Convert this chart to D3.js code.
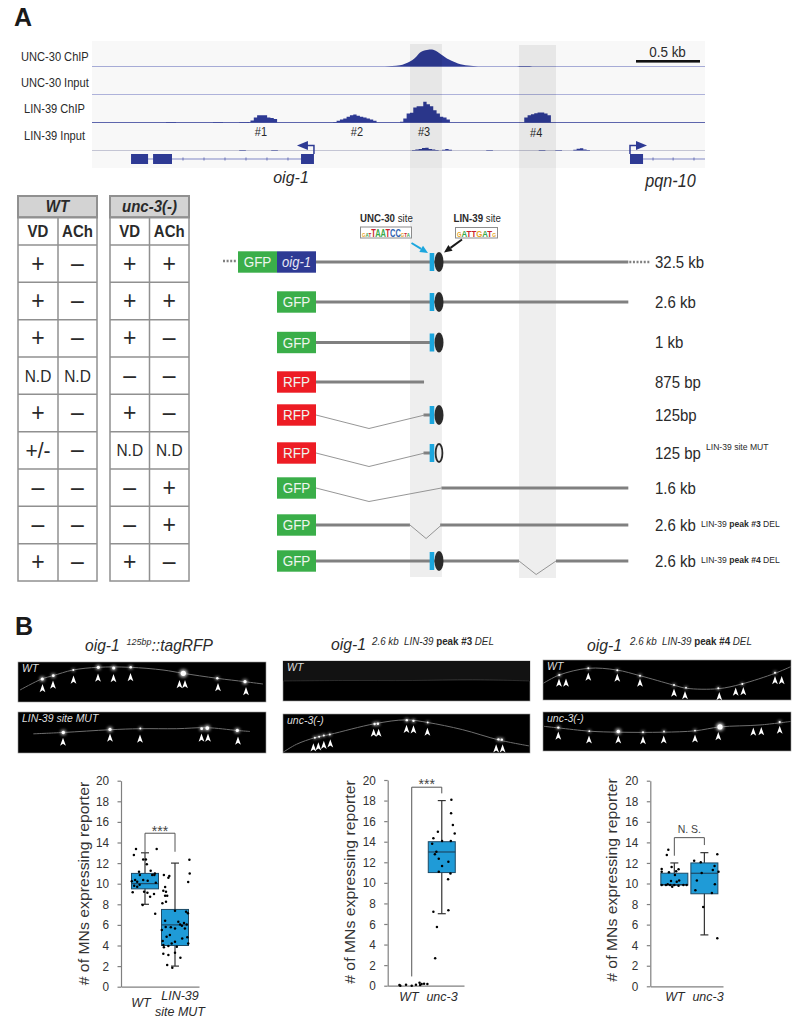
<!DOCTYPE html>
<html>
<head>
<meta charset="utf-8">
<script src="https://cdnjs.cloudflare.com/ajax/libs/d3/7.8.5/d3.min.js"></script>
<style>
  html, body { margin: 0; padding: 0; background: #fff; }
  svg { display: block; }
  text { font-family: "Liberation Sans", Arial, sans-serif; fill: #2a2a2a; }
</style>
</head>
<body>
<svg id="fig" width="799" height="1030"></svg>
<script>
// ---- browser tracks (kb along the locus, coverage in arbitrary units)
const trackNames = ["UNC-30 ChIP", "UNC-30 Input", "LIN-39 ChIP", "LIN-39 Input"];
const unc30Kb = [2.289, 2.344, 2.406, 2.484, 2.523, 2.563, 2.617, 2.656, 2.695, 2.734, 2.773, 2.813, 2.859, 2.898, 2.938, 3.016];
const unc30Cov = [0, 0.6, 1.3, 5, 8.5, 14, 16.5, 17, 15, 11.5, 8, 5.5, 3, 1.7, 0.9, 0];
const unc30SmallKb = [3.32, 3.34, 3.42, 3.44];
const unc30SmallCov = [0, 0.5, 0.5, 0];
const peak1 = [0.3, 2, 5, 7.3, 7.3, 7.3, 5, 4.5, 3.5, 0];
const peak2 = [0.6, 1.7, 3, 4, 5.7, 7.3, 8, 6.7, 5.7, 5, 4, 3, 1.7, 0];
const peak3 = [0.7, 4, 9, 9.7, 15, 16.3, 16.3, 20.7, 18.3, 16.3, 12.3, 9, 5.7, 5, 3, 0];
const peak4 = [5, 7.3, 8.3, 9.3, 10, 10, 9, 7.3, 0];
const peakStarts = [1.212, 1.885, 2.406, 3.377];
const smallPeakStarts = [0.578, 0.945, 1.15];
const smallPeak = [0.5, 0.5, 0.5, 0];
const inputBumps = [0.5, 1, 1.5, 2.5, 2.7, 1.5, 1, 0.4, 0, 0.8, 1.5, 0.7, 0];
const inputBumpStart = 2.5;
const inputBumps2 = [0.7, 1.7, 2.3, 1, 0.5, 0];
const inputBump2Start = 3.76;
const inputFlatStarts = [1.15, 1.4, 3.08, 3.49, 3.62];
const peakNames = ["#1", "#2", "#3", "#4"];
const peakNameKb = [1.32, 2.07, 2.594, 3.47];
const bandsKb = [[2.484, 2.734], [3.336, 3.625]];
const oigExons = [[0.305, 0.438], [0.477, 0.625], [1.633, 1.734]];
const oigIntronTicks = [0.711, 0.875, 1.039, 1.203, 1.367, 1.531];
const pqnExon = [4.203, 4.305];
const pqnIntronTicks = [4.383, 4.54, 4.703];

// ---- reporter table
const tableHeads = ["WT", "unc-3(-)"];
const colHeads = ["VD", "ACh"];
const wtVD = ["+", "+", "+", "N.D", "+", "+/-", "–", "–", "+"];
const wtACh = ["–", "–", "–", "N.D", "–", "–", "–", "–", "–"];
const uncVD = ["+", "+", "+", "–", "+", "N.D", "–", "–", "+"];
const uncACh = ["+", "+", "–", "–", "–", "N.D", "+", "+", "–"];

// ---- constructs
const constructIds = ["c32", "c26", "c1", "c875", "c125", "c125m", "c16", "cd3", "cd4"];
const constructTags = ["GFP", "GFP", "GFP", "RFP", "RFP", "RFP", "GFP", "GFP", "GFP"];
const constructSizes = ["32.5 kb", "2.6 kb", "1 kb", "875 bp", "125bp", "125 bp", "1.6 kb", "2.6 kb", "2.6 kb"];
const thickParts = [
  [[1.75, 4.19]], [[1.75, 4.19]], [[1.75, 2.656]], [[1.75, 2.594]], [[2.59, 2.656]], [[2.59, 2.656]],
  [[2.73, 4.19]], [[1.75, 2.484], [2.72, 4.19]], [[1.75, 3.336], [3.625, 4.19]]
];
const thinParts = [
  [], [], [], [], [[1.75, 0], [2.164, 1], [2.6, 0]], [[1.75, 0], [2.164, 1], [2.6, 0]],
  [[1.75, 0], [2.164, 1], [2.73, 0]], [[2.484, 0], [2.61, 1], [2.73, 0]], [[3.336, 0], [3.47, 1], [3.625, 0]]
];
const hasBar = [1, 1, 1, 0, 1, 1, 0, 0, 1];
const siteState = ["on", "on", "on", "", "on", "mut", "", "", "on"];

// ---- panel B images (position along the image, in image units 0-248 x 0-40)
const img1Trace = [[2, 28], [23.7, 17], [35, 13.7], [55, 8], [80, 5.3], [112, 5.3], [145, 8], [165, 11.3], [199, 16.3], [227, 19.7], [245, 22]];
const img1Cells = [[24.3, 17, 1.6], [35.3, 13.7, 1.4], [55.3, 8, 1], [80.3, 5.3, 1.6], [95.7, 6, 1.6], [112.7, 5.3, 1.3], [165.3, 11.3, 2.6], [199.3, 16.3, 1.2], [227, 19.7, 1.6]];
const img1Arrows = [[24.5, 22], [35, 18.5], [55.5, 13.5], [80, 11.5], [95.5, 12], [112.5, 11], [161.5, 18], [167, 18], [200, 21], [228, 25]];
const img2Trace = [[15.3, 21.3], [45, 20], [92, 17.3], [122, 16.3], [158.7, 16.3], [188.7, 15.3], [219, 18], [232, 19]];
const img2Cells = [[45.3, 20, 1.7], [92, 17, 1.6], [122.3, 16, 1], [183.7, 16.3, 1.4], [189.3, 15.7, 1.9], [219.3, 18, 1.6]];
const img2Arrows = [[45, 25], [92, 21], [122, 22], [183.5, 21], [190, 21], [220, 24]];
const img3Trace = [[0, 20], [60, 19.5], [130, 19.5], [190, 18.5], [247, 20]];
const img4Trace = [[0, 39.3], [13.7, 31], [32, 24.3], [47, 21], [92, 10], [123.7, 6], [145.3, 8.7], [180, 16], [217, 26.7], [247, 32.7]];
const img4Cells = [[32, 24.3, 1], [36.3, 23.3, 1], [41, 22, 1], [47, 21, 1], [92, 10.3, 1.2], [95.3, 10, 1.2], [124.3, 6.3, 1.2], [131, 7, 1.2], [145.3, 8.7, 0.9], [216.3, 26, 1.2], [219.7, 26.3, 1.2]];
const img4Arrows = [[30.5, 30], [35.5, 29], [41, 27.5], [47.5, 26], [91, 15], [96, 15], [124, 11], [131, 11.5], [145, 14], [214, 31], [220.5, 31]];
const img5Trace = [[0.3, 23.3], [16.3, 15], [45.3, 8.3], [73.7, 10], [97, 15.7], [130.3, 25], [143.7, 28.3], [175.3, 28.7], [198.7, 24], [232, 13.3], [247.7, 6.7]];
const img5Cells = [[16.3, 15, 1.1], [45.3, 8.3, 1], [74.3, 10.3, 1], [97, 15.7, 1], [131, 25, 1], [143, 27.7, 0.9], [175.3, 28.3, 1], [199.3, 24, 1], [232, 12.7, 1]];
const img5Arrows = [[16, 18.5], [23, 18.5], [45.3, 12.5], [74.3, 13.5], [97, 18.5], [131, 28.5], [142, 31], [176.3, 32], [192.7, 27.5], [200.3, 27], [232, 16], [238.7, 16]];
const img6Trace = [[1, 14.7], [15.3, 16.3], [47, 19.7], [75.3, 20.7], [120.3, 20.7], [152, 19.3], [177, 15.3], [217, 13.3], [247.7, 9.7]];
const img6Cells = [[15.3, 16, 1.2], [46.3, 19.7, 0.9], [75.3, 20, 1.8], [100, 20.7, 1], [121, 20, 0.9], [152, 19, 0.9], [177, 15.3, 2.6], [236.7, 10.3, 1.1]];
const img6Arrows = [[15.3, 20], [46, 24], [75.3, 24], [100, 24.7], [120.7, 24], [152, 23], [175.3, 20.5], [210.3, 16], [218.3, 15.5], [236.7, 14]];

// ---- box plots (value axis in # of MNs, x in category units: WT = 1, other = 2)
const yTicks = [0, 2, 4, 6, 8, 10, 12, 14, 16, 18, 20];
const statsA = [[8, 9.5, 10, 11, 13], [2, 4, 6, 7.5, 12]];
const statsB = [null, [7, 11, 13, 14, 18]];
const statsC = [[9.85, 9.85, 9.9, 11, 12], [5, 9, 11, 12, 13]];
const ptsAwt = [[.7, 13.37], [.63, 12.78], [1.39, 13.37], [.94, 12.36], [1.03, 12.36], [1.06, 11.9], [.8, 11.17], [1.19, 11.26], [1.33, 11], [.83, 10.84], [1.24, 10.84], [1.31, 10.84], [.56, 10.23], [.67, 10.36], [.74, 10.2], [.94, 10.36], [1.09, 10.29], [.64, 9.8], [.74, 9.7], [.59, 9.16], [.97, 9.22], [1.08, 9.13], [1.3, 9], [1.17, 8.74], [.92, 7.93], [1.34, 7.09], [.82, 9.9], [1.36, 10.1]];
const ptsAmut = [[2.48, 12.33], [2.49, 11], [2.44, 10.16], [1.63, 10.84], [1.81, 10.74], [1.78, 10.58], [1.67, 9.68], [1.61, 9.32], [1.7, 9.22], [1.67, 8.83], [1.74, 8.83], [1.7, 8.25], [1.58, 8.09], [2, 7.38], [2.37, 7.28], [2.43, 7.12], [2.11, 6.31], [1.67, 6.41], [2.3, 6.18], [2.39, 6.05], [2.17, 6.05], [1.56, 5.5], [1.69, 5.79], [1.86, 5.76], [2.23, 5.92], [2.33, 5.66], [2, 5.66], [1.83, 5.02], [1.72, 4.85], [2.24, 4.69], [2.41, 4.79], [2.44, 4.2], [1.59, 4.43], [2, 4.37], [1.61, 4.05], [1.89, 4.2], [1.78, 3.95], [2.06, 3.88], [1.63, 3.82], [2, 3.3], [1.61, 3.2], [1.78, 3.07], [2.18, 2.82], [1.74, 2.1], [1.91, 1.84]];
const ptsBwt = [[.59, .06], [.62, 0], [.81, .1], [1, 0], [1.14, .1], [1.26, .29], [1.28, .06], [1.33, .16], [1.41, .2], [1.52, .16]];
const ptsBunc = [[2.32, 18.09], [2.31, 16.76], [2.37, 15.62], [2.43, 14.81], [1.87, 14.98], [1.72, 14.33], [2.01, 14.07], [2.3, 14.07], [1.68, 13.81], [1.82, 13.03], [1.77, 12.77], [1.9, 12.35], [2.22, 12.06], [2.01, 11.64], [1.9, 11.09], [2.29, 10.92], [2.21, 10.34], [2.22, 7.33], [1.72, 7.2], [1.84, 5.7], [1.78, 2.66]];
const ptsCwt = [[.8, 13.29], [.75, 12.77], [.91, 11.6], [.58, 11.4], [.58, 11.15], [1.14, 11.38], [1.06, 11.2], [.82, 11.09], [1.02, 10.83], [.89, 10.24], [1.16, 10.28], [1.08, 10.18], [.58, 9.85], [.72, 9.85], [.86, 9.85], [.93, 9.69], [1, 9.85], [1.14, 9.79], [1.3, 9.85], [1.41, 9.85], [.78, 9.92]];
const ptsCunc = [[2.43, 12.84], [1.66, 12.22], [1.88, 12.06], [2.34, 11.7], [2.28, 11.31], [2.47, 11.15], [1.91, 11.02], [1.75, 10.28], [2.35, 9.92], [1.7, 9.34], [2.25, 9.08], [1.96, 7.71], [2.43, 4.67]];

const svg = d3.select("#fig");
const defs = svg.append("defs");
defs.append("filter").attr("id", "glow").attr("x", "-150%").attr("y", "-150%").attr("width", "400%").attr("height", "400%")
  .append("feGaussianBlur").attr("stdDeviation", 0.6);
defs.append("filter").attr("id", "halo").attr("x", "-150%").attr("y", "-150%").attr("width", "400%").attr("height", "400%")
  .append("feGaussianBlur").attr("stdDeviation", 1.8);

const BLUE = "#2e3a94";
const xKb = d3.scaleLinear().domain([0, 4.789]).range([92, 705]);

// the source figure was squeezed sideways, so all text is narrowed a little
const SQ = 0.92;

function label(x, y, str, size, opts = {}) {
  return svg.append("text").attr("transform", `translate(${x},${y}) scale(${SQ},1)`).text(str)
    .attr("font-size", size / SQ)
    .attr("text-anchor", opts.anchor || "start")
    .attr("font-weight", opts.weight || null)
    .attr("font-style", opts.style || null)
    .style("fill", opts.fill || null);
}

// mixed-style runs on one baseline: each part is [text, size, style, weight]
function rich(x, y, parts) {
  const t = svg.append("text").attr("transform", `translate(${x},${y}) scale(${SQ},1)`).attr("xml:space", "preserve");
  parts.forEach(p => {
    t.append("tspan").text(p[0]).attr("font-size", p[1] / SQ).attr("font-style", p[2] || null)
      .attr("font-weight", p[3] || null);
  });
  return t;
}

svg.append("text").attr("x", 14).attr("y", 26).attr("font-size", 25).attr("font-weight", "bold").text("A").style("fill", "#1a1a1a");
svg.append("text").attr("x", 15).attr("y", 635).attr("font-size", 25).attr("font-weight", "bold").text("B").style("fill", "#1a1a1a");

// ---------- browser panel
svg.append("rect").attr("x", xKb(0)).attr("y", 41).attr("width", xKb(4.789) - xKb(0)).attr("height", 127).attr("fill", "#f8f8f8");

const trackY = d3.scaleOrdinal(trackNames, [66.5, 94.5, 122.5, 150.5]);
const trackLabelX = d3.scaleOrdinal(trackNames, [21, 21, 24, 24]);
const trackLabelY = d3.scaleOrdinal(trackNames, [61, 87, 113, 140]);
const trackLine = d3.scaleOrdinal(trackNames, ["#a6abd6", "#aeb2da", "#5e66ad", "#c4c5d4"]);

trackNames.forEach(name => {
  label(trackLabelX(name), trackLabelY(name), name, 11.1);
  svg.append("line").attr("x1", xKb(0)).attr("x2", xKb(4.789))
    .attr("y1", trackY(name)).attr("y2", trackY(name))
    .attr("stroke", trackLine(name)).attr("stroke-width", 1);
});

const smoothArea = d3.area().x(d => xKb(d[0])).y0(d => d[2]).y1(d => d[2] - d[1]).curve(d3.curveMonotoneX);
const stepArea = d3.area().x(d => xKb(d[0])).y0(d => d[2]).y1(d => d[2] - d[1]).curve(d3.curveStepAfter);

svg.append("path").attr("fill", BLUE)
  .attr("d", smoothArea(unc30Kb.map((k, i) => [k, unc30Cov[i], trackY(trackNames[0])])));
svg.append("path").attr("fill", BLUE)
  .attr("d", smoothArea(unc30SmallKb.map((k, i) => [k, unc30SmallCov[i], trackY(trackNames[0])])));

const BIN = 0.026;
function stepPeak(vals, start, base) {
  svg.append("path").attr("fill", BLUE)
    .attr("d", stepArea(vals.map((v, i) => [start + i * BIN, v, base])));
}
[peak1, peak2, peak3, peak4].forEach((p, i) => stepPeak(p, peakStarts[i], trackY(trackNames[2])));
smallPeakStarts.forEach(s => stepPeak(smallPeak, s, trackY(trackNames[2])));
stepPeak(inputBumps, inputBumpStart, trackY(trackNames[3]));
stepPeak(inputBumps2, inputBump2Start, trackY(trackNames[3]));
inputFlatStarts.forEach(s => stepPeak([0.5, 0.5, 0], s, trackY(trackNames[3])));

const peakLabelY = d3.scaleOrdinal(peakNames, [136, 136, 136, 137]);
peakNames.forEach((n, i) => label(xKb(peakNameKb[i]), peakLabelY(n), n, 11, { anchor: "middle" }));

// grey bands run through the tracks and the construct drawing
bandsKb.forEach((b, i) => {
  svg.append("rect").attr("x", xKb(b[0])).attr("width", xKb(b[1]) - xKb(b[0]))
    .attr("y", 44 + i).attr("height", 533).attr("fill", "#000").attr("fill-opacity", 0.066);
});

// scale bar
svg.append("rect").attr("x", 636).attr("y", 60).attr("width", xKb(0.5) - xKb(0)).attr("height", 2.6).attr("fill", "#111");
label(667.5, 56.5, "0.5 kb", 13.5, { anchor: "middle" });

// gene models
const GENE_Y = 159;
svg.append("line").attr("x1", xKb(oigExons[0][0])).attr("x2", xKb(oigExons[2][0])).attr("y1", GENE_Y).attr("y2", GENE_Y).attr("stroke", "#8188c6");
svg.append("line").attr("x1", xKb(pqnExon[1])).attr("x2", xKb(4.789)).attr("y1", GENE_Y).attr("y2", GENE_Y).attr("stroke", "#8188c6");
oigExons.concat([pqnExon]).forEach(e => {
  svg.append("rect").attr("x", xKb(e[0])).attr("width", xKb(e[1]) - xKb(e[0]))
    .attr("y", GENE_Y - 5).attr("height", 10).attr("fill", BLUE);
});
oigIntronTicks.concat(pqnIntronTicks).forEach(k => {
  svg.append("line").attr("x1", xKb(k)).attr("x2", xKb(k)).attr("y1", GENE_Y - 1.5).attr("y2", GENE_Y + 1.5).attr("stroke", "#6a72b8");
});
const tssArrow = (x, dir) => {
  svg.append("path").attr("fill", "none").attr("stroke", BLUE).attr("stroke-width", 1.5)
    .attr("d", d3.line()([[x, 154], [x, 145.5], [x + dir * 8, 145.5]]));
  svg.append("path").attr("fill", BLUE)
    .attr("d", d3.line()([[x + dir * 6, 141], [x + dir * 17, 145.5], [x + dir * 6, 150]]));
};
tssArrow(xKb(oigExons[2][1]), -1);
tssArrow(xKb(pqnExon[0]), 1);
label(291, 183, "oig-1", 16, { anchor: "middle", style: "italic" });
label(670.5, 187, "pqn-10", 16.2, { anchor: "middle", style: "italic" });

// ---------- table
const rowEdge = d3.scaleLinear().domain([0, 9]).range([245, 581]);
const rowIdx = d3.range(9);
function drawTable(x0, x1, x2, head, col1, col2, headSize) {
  const G = "#909090";
  svg.append("rect").attr("x", x0).attr("y", 196).attr("width", x2 - x0).attr("height", 21.5)
    .attr("fill", "#d3d3d3").attr("stroke", G).attr("stroke-width", 2);
  svg.append("line").attr("x1", x1).attr("x2", x1).attr("y1", 217).attr("y2", rowEdge(9)).attr("stroke", G).attr("stroke-width", 1.5);
  svg.append("rect").attr("x", x0).attr("y", 217).attr("width", x2 - x0).attr("height", rowEdge(9) - 217)
    .attr("fill", "none").attr("stroke", G).attr("stroke-width", 1.5);
  rowIdx.forEach(i => {
    svg.append("line").attr("x1", x0).attr("x2", x2).attr("y1", rowEdge(i)).attr("y2", rowEdge(i)).attr("stroke", G).attr("stroke-width", 1.5);
    [[col1[i], (x0 + x1) / 2], [col2[i], (x1 + x2) / 2]].forEach(c => {
      const nd = c[0] === "N.D";
      const pm = c[0] === "+/-";
      label(c[1], (rowEdge(i) + rowEdge(i + 1)) / 2 + (nd ? 6 : 8), c[0], nd ? 15.5 : (pm ? 21 : 23), { anchor: "middle" });
    });
  });
  label((x0 + x2) / 2, 212, head, headSize, { anchor: "middle", weight: "bold", style: "italic" });
  label((x0 + x1) / 2, 237, colHeads[0], 15, { anchor: "middle", weight: "bold" });
  label((x1 + x2) / 2, 237, colHeads[1], 15, { anchor: "middle", weight: "bold" });
}
drawTable(18, 58, 97, tableHeads[0], wtVD, wtACh, 15);
drawTable(110, 149.5, 189, tableHeads[1], uncVD, uncACh, 15);

// ---------- constructs
const rowY = d3.scaleOrdinal(constructIds, [262, 302, 342.5, 382, 415, 453, 488, 525, 561]);
const tagColor = { GFP: "#3aae49", RFP: "#ed1c24" };
const thick = "#808080";
constructIds.forEach((id, i) => {
  const y = rowY(id);
  thickParts[i].forEach(p => {
    svg.append("line").attr("x1", xKb(p[0])).attr("x2", xKb(p[1])).attr("y1", y).attr("y2", y)
      .attr("stroke", thick).attr("stroke-width", 3);
  });
  if (thinParts[i].length) {
    svg.append("path").attr("fill", "none").attr("stroke", "#8a8a8a").attr("stroke-width", 0.9)
      .attr("d", d3.line().x(d => xKb(d[0])).y(d => y + d[1] * 13.5)(thinParts[i]));
  }
  const boxX = xKb(1.75) - 39 - (i === 0 ? 39 : 0);
  svg.append("rect").attr("x", boxX).attr("y", y - 10.7).attr("width", 39).attr("height", 21.4).attr("fill", tagColor[constructTags[i]]);
  label(boxX + 19.5, y + 5, constructTags[i], 13.5, { anchor: "middle", fill: "#eef5ee" });
  if (hasBar[i]) {
    svg.append("rect").attr("x", xKb(2.656) - 2.3).attr("width", 4.6).attr("y", y - 9).attr("height", 18).attr("fill", "#1ba6de");
  }
  if (siteState[i] === "on") {
    svg.append("ellipse").attr("cx", xKb(2.711)).attr("cy", y).attr("rx", 4.5).attr("ry", 10).attr("fill", "#2a2a2a");
  } else if (siteState[i] === "mut") {
    svg.append("ellipse").attr("cx", xKb(2.711)).attr("cy", y).attr("rx", 3.4).attr("ry", 9).attr("fill", "none").attr("stroke", "#2a2a2a").attr("stroke-width", 1.8);
  }
  label(655, y + 5.5, constructSizes[i], 15);
});

// first construct: fused oig-1 and dotted ends
const topY = rowY(constructIds[0]);
svg.append("rect").attr("x", xKb(1.75) - 39).attr("y", topY - 10.7).attr("width", 39).attr("height", 21.4).attr("fill", BLUE);
label(xKb(1.75) - 19.5, topY + 4.5, "oig-1", 13, { anchor: "middle", style: "italic", fill: "#e8e8f6" });
svg.append("line").attr("x1", 223).attr("x2", xKb(1.75) - 79).attr("y1", topY - 1).attr("y2", topY - 1).attr("stroke", thick).attr("stroke-width", 2.5).attr("stroke-dasharray", "2 1.6");
svg.append("line").attr("x1", xKb(4.19) + 1).attr("x2", 650).attr("y1", topY).attr("y2", topY).attr("stroke", thick).attr("stroke-width", 2.5).attr("stroke-dasharray", "2 1.6");

// superscripts after the sizes
rich(706, 450, [["LIN-39 site MUT", 8.6]]);
rich(701, 527, [["LIN-39 ", 8.6], ["peak #3", 8.6, null, "bold"], [" DEL", 8.6]]);
rich(701, 563, [["LIN-39 ", 8.6], ["peak #4", 8.6, null, "bold"], [" DEL", 8.6]]);

// binding site logos
const logoColor = { A: "#3aa84a", T: "#c8202c", C: "#2d5fb0", G: "#e7a427" };
function logo(x, y, w, h, seq, sizes) {
  svg.append("rect").attr("x", x).attr("y", y).attr("width", w).attr("height", h).attr("fill", "#fff").attr("stroke", "#8c8c8c");
  const t = svg.append("text").attr("x", x + 1.5).attr("y", y + h - 1.5)
    .attr("textLength", w - 3).attr("lengthAdjust", "spacingAndGlyphs");
  seq.split("").forEach((c, i) => {
    t.append("tspan").text(c).attr("font-size", sizes[i]).attr("font-weight", "bold").style("fill", logoColor[c]);
  });
}
rich(360, 222, [["UNC-30", 9.7, null, "bold"], [" site", 9.7]]);
rich(453.5, 221.5, [["LIN-39", 9.7, null, "bold"], [" site", 9.7]]);
logo(360.5, 227, 51, 11, "GATTAATCCGTA", [6, 6, 6, 10, 10, 10, 10, 10, 10, 6, 6, 6]);
logo(455.5, 227.5, 42, 10.5, "GATTGATG", [7, 9.5, 9.5, 9.5, 9.5, 9.5, 9.5, 6]);

function arrow(x1, y1, x2, y2, color) {
  const a = Math.atan2(y2 - y1, x2 - x1);
  const back = [x2 - 8 * Math.cos(a), y2 - 8 * Math.sin(a)];
  const px = -Math.sin(a) * 3.6, py = Math.cos(a) * 3.6;
  svg.append("line").attr("x1", x1).attr("y1", y1).attr("x2", back[0]).attr("y2", back[1]).attr("stroke", color).attr("stroke-width", 2);
  svg.append("path").attr("fill", color)
    .attr("d", d3.line()([[x2, y2], [back[0] + px, back[1] + py], [back[0] - px, back[1] - py]]) + "Z");
}
arrow(411.5, 243, 428, 253, "#1ba6de");
arrow(462, 239.5, 444, 252.5, "#1a1a1a");

// ---------- panel B titles
rich(85, 651, [["oig-1", 15.6, "italic"]]);
rich(126.5, 645, [["125bp", 9, "italic"]]);
rich(151.5, 651, [["::tagRFP", 15.6, "italic"]]);
rich(331, 650, [["oig-1", 15.8, "italic"]]);
rich(372, 645, [["2.6 kb  LIN-39 ", 9.8, "italic"], ["peak #3", 9.8, null, "bold"], [" DEL", 9.8, "italic"]]);
rich(587, 651, [["oig-1", 15.8, "italic"]]);
rich(630, 645, [["2.6 kb  LIN-39 ", 9.8, "italic"], ["peak #4", 9.8, null, "bold"], [" DEL", 9.8, "italic"]]);

// ---------- worm images
const arrowHead = "M0,0 L2.9,8.2 L0,6.2 L-2.9,8.2 Z";
function wormImage(x, y, w, h, name, trace, cells, arrows, dim) {
  const ix = d3.scaleLinear().domain([0, 248]).range([x, x + w]);
  const iy = d3.scaleLinear().domain([0, 40]).range([y, y + h]);
  svg.append("rect").attr("x", x).attr("y", y).attr("width", w).attr("height", h).attr("fill", "#000").attr("stroke", "#9a9a9a").attr("stroke-width", 0.6);
  if (dim) {
    svg.append("rect").attr("x", x).attr("y", y).attr("width", w).attr("height", iy(20) - y).attr("fill", "#121212");
  }
  svg.append("path").attr("fill", "none").attr("stroke", dim ? "#363636" : "#6e6e6e").attr("stroke-width", dim ? 0.7 : 1)
    .attr("d", d3.line().x(d => ix(d[0])).y(d => iy(d[1])).curve(d3.curveCatmullRom)(trace));
  cells.forEach(c => {
    svg.append("circle").attr("cx", ix(c[0])).attr("cy", iy(c[1])).attr("r", c[2] * 1.6).attr("fill", "#bbb").attr("filter", "url(#halo)");
    svg.append("circle").attr("cx", ix(c[0])).attr("cy", iy(c[1])).attr("r", c[2]).attr("fill", "#fff").attr("filter", "url(#glow)");
  });
  arrows.forEach(a => {
    svg.append("path").attr("d", arrowHead).attr("fill", "#fff").attr("transform", `translate(${ix(a[0])},${iy(a[1])})`);
  });
  label(x + 4, y + 10, name, 10.5, { style: "italic", fill: "#ddd" });
}
wormImage(18, 662, 248, 40, "WT", img1Trace, img1Cells, img1Arrows);
wormImage(18, 712, 248, 41, "LIN-39 site MUT", img2Trace, img2Cells, img2Arrows);
wormImage(283, 661, 247, 40, "WT", img3Trace, [], [], true);
wormImage(283, 714, 247, 39, "unc-3(-)", img4Trace, img4Cells, img4Arrows);
wormImage(543, 660, 248, 40, "WT", img5Trace, img5Cells, img5Arrows);
wormImage(543, 712, 248, 39, "unc-3(-)", img6Trace, img6Cells, img6Arrows);

// ---------- box plots
function boxPlot(cfg) {
  const y = d3.scaleLinear().domain([0, 20]).range([cfg.y0, cfg.y20]);
  const x = d3.scaleLinear().domain([0.2, cfg.xMax]).range([cfg.left, cfg.right]);
  const g = svg.append("g");
  const AX = "#808080";

  const yAxis = g.append("g").attr("transform", `translate(${cfg.left},0)`)
    .call(d3.axisLeft(y).tickValues(yTicks).tickSize(3.5).tickSizeOuter(0).tickPadding(9.5));
  const xAxis = g.append("g").attr("transform", `translate(0,${cfg.y0})`)
    .call(d3.axisBottom(x).tickValues([]).tickSizeOuter(0));
  [yAxis, xAxis].forEach(a => {
    a.selectAll("path,line").attr("stroke", AX).attr("stroke-width", 1.2);
  });
  yAxis.selectAll("text").attr("font-size", 12.8).attr("font-family", "Liberation Sans")
    .attr("transform", `scale(${SQ},1)`).style("fill", "#333");

  cfg.stats.forEach((s, i) => {
    if (!s) return;
    const c = x(i + 1);
    g.append("line").attr("x1", c).attr("x2", c).attr("y1", y(s[0])).attr("y2", y(s[4])).attr("stroke", "#333").attr("stroke-width", 1.2);
    [s[0], s[4]].forEach(v => {
      g.append("line").attr("x1", c - 4).attr("x2", c + 4).attr("y1", y(v)).attr("y2", y(v)).attr("stroke", "#333").attr("stroke-width", 1.2);
    });
    g.append("rect").attr("x", c - 13.5).attr("width", 27).attr("y", y(s[3])).attr("height", y(s[1]) - y(s[3]))
      .attr("fill", "#1f9bd7").attr("stroke", "#1d4a66").attr("stroke-width", 1);
    g.append("line").attr("x1", c - 13.5).attr("x2", c + 13.5).attr("y1", y(s[2])).attr("y2", y(s[2])).attr("stroke", "#1d3a50").attr("stroke-width", 1);
  });

  cfg.pts.flat().forEach(p => {
    g.append("circle").attr("cx", x(p[0])).attr("cy", y(p[1])).attr("r", 1.25).attr("fill", "#000");
  });

  // significance bracket
  g.append("path").attr("fill", "none").attr("stroke", "#555").attr("stroke-width", 1)
    .attr("d", d3.line().x(d => x(d[0])).y(d => y(d[1]))([[1, cfg.bracket[0]], [1, cfg.bracket[1]], [2, cfg.bracket[1]], [2, cfg.bracket[2]]]));
  label(x(1.5), y(cfg.bracket[1]) + cfg.sigDy, cfg.sig, cfg.sigSize, { anchor: "middle" }).style("fill", "#444");

  g.append("text").attr("transform", `translate(${cfg.titleX},${cfg.titleY}) scale(${SQ},1) rotate(-90)`)
    .attr("text-anchor", "middle").attr("font-size", 15.8).text("# of MNs expressing reporter").style("fill", "#333");

  cfg.cats.forEach(c => label(c[0], c[1], c[2], 12.5, { anchor: "middle", style: "italic" }));
}

boxPlot({
  left: 121, right: 199, xMax: 2.8, y0: 986.7, y20: 780.7, titleX: 89, titleY: 883.5,
  stats: statsA, pts: [ptsAwt, ptsAmut], bracket: [13, 14.9, 13.1], sig: "***", sigDy: 3, sigSize: 14,
  cats: [[141, 1007, "WT"], [180, 1000, "LIN-39"], [180, 1016, "site MUT"]]
});
boxPlot({
  left: 387.7, right: 464, xMax: 2.74, y0: 985.7, y20: 780, titleX: 355, titleY: 882,
  stats: statsB, pts: [ptsBwt, ptsBunc], bracket: [0.9, 19.3, 18.7], sig: "***", sigDy: 2, sigSize: 14,
  cats: [[409, 1001, "WT"], [442, 1001, "unc-3"]]
});
boxPlot({
  left: 650.3, right: 723, xMax: 2.62, y0: 986.3, y20: 780.7, titleX: 617, titleY: 880,
  stats: statsC, pts: [ptsCwt, ptsCunc], bracket: [12.7, 14.46, 13.74], sig: "N. S.", sigDy: -5, sigSize: 10.5,
  cats: [[675, 1001, "WT"], [708, 1001, "unc-3"]]
});
</script>
</body>
</html>
